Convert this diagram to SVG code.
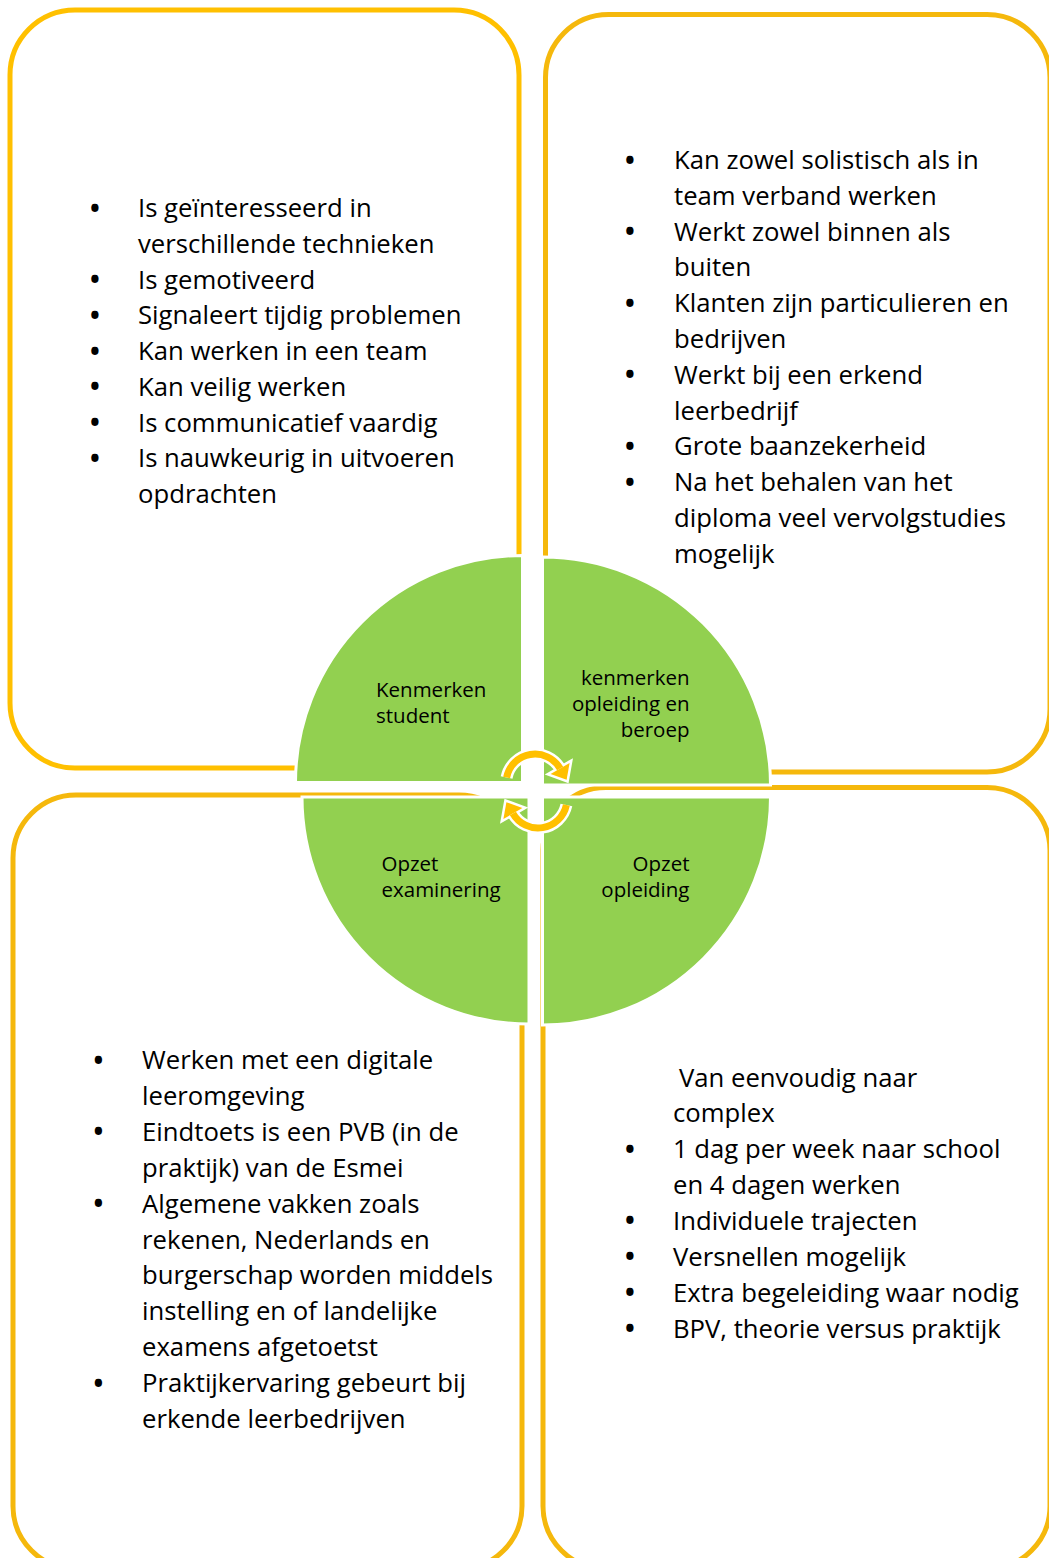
<svg xmlns="http://www.w3.org/2000/svg" width="1049" height="1558" viewBox="0 0 1049 1558">
<style>
.box{fill:#fff;stroke-width:5}
.y1{stroke:#FFC000}
.y2{stroke:#F5B80C}
.t{font-family:"Open Sans","Liberation Sans",sans-serif;font-size:25.7px;fill:#000}
.lbl{font-family:"Open Sans","Liberation Sans",sans-serif;font-size:20.5px;fill:#000}
.b{text-anchor:middle;font-size:26px;font-weight:bold}
.q{fill:#92D050;stroke:#fff;stroke-width:3}
.aw{fill:none;stroke:#fff;stroke-width:12}
.ahw{fill:#fff;stroke:#fff;stroke-width:5;stroke-linejoin:miter}
.ao{fill:none;stroke:#FFC000;stroke-width:7}
.aho{fill:#FFC000}
</style>
<rect width="1049" height="1558" fill="#fff"/>

<g id="box-kenmerken-student">
<rect class="box y1" x="10" y="10" width="509" height="758" rx="65"/>
<g class="t">
<text class="b" x="95" y="217.5">•</text>
<text x="138" y="217">Is geïnteresseerd in</text>
<text x="138" y="252.8">verschillende technieken</text>
<text class="b" x="95" y="289">•</text>
<text x="138" y="288.5">Is gemotiveerd</text>
<text class="b" x="95" y="324.8">•</text>
<text x="138" y="324.3">Signaleert tijdig problemen</text>
<text class="b" x="95" y="360.5">•</text>
<text x="138" y="360">Kan werken in een team</text>
<text class="b" x="95" y="396.3">•</text>
<text x="138" y="395.8">Kan veilig werken</text>
<text class="b" x="95" y="432">•</text>
<text x="138" y="431.5">Is communicatief vaardig</text>
<text class="b" x="95" y="467.8">•</text>
<text x="138" y="467.3">Is nauwkeurig in uitvoeren</text>
<text x="138" y="503">opdrachten</text>
</g>
</g>

<g id="box-kenmerken-opleiding">
<rect class="box y2" x="545.5" y="14.5" width="504.5" height="757.5" rx="63"/>
<g class="t">
<text class="b" x="630" y="169.5">•</text>
<text x="674" y="169">Kan zowel solistisch als in</text>
<text x="674" y="204.8">team verband werken</text>
<text class="b" x="630" y="241.1">•</text>
<text x="674" y="240.6">Werkt zowel binnen als</text>
<text x="674" y="276.4">buiten</text>
<text class="b" x="630" y="312.7">•</text>
<text x="674" y="312.2">Klanten zijn particulieren en</text>
<text x="674" y="348">bedrijven</text>
<text class="b" x="630" y="384.3">•</text>
<text x="674" y="383.8">Werkt bij een erkend</text>
<text x="674" y="419.6">leerbedrijf</text>
<text class="b" x="630" y="455.9">•</text>
<text x="674" y="455.4">Grote baanzekerheid</text>
<text class="b" x="630" y="491.7">•</text>
<text x="674" y="491.2">Na het behalen van het</text>
<text x="674" y="527">diploma veel vervolgstudies</text>
<text x="674" y="562.8">mogelijk</text>
</g>
</g>

<g id="box-opzet-examinering">
<rect class="box y2" x="13" y="795" width="509" height="774" rx="63"/>
<g class="t">
<text class="b" x="98.5" y="1069.5">•</text>
<text x="142" y="1069">Werken met een digitale</text>
<text x="142" y="1104.9">leeromgeving</text>
<text class="b" x="98.5" y="1141.3">•</text>
<text x="142" y="1140.8">Eindtoets is een PVB (in de</text>
<text x="142" y="1176.7">praktijk) van de Esmei</text>
<text class="b" x="98.5" y="1213.1">•</text>
<text x="142" y="1212.6">Algemene vakken zoals</text>
<text x="142" y="1248.5">rekenen, Nederlands en</text>
<text x="142" y="1284.4">burgerschap worden middels</text>
<text x="142" y="1320.3">instelling en of landelijke</text>
<text x="142" y="1356.2">examens afgetoetst</text>
<text class="b" x="98.5" y="1392.6">•</text>
<text x="142" y="1392.1">Praktijkervaring gebeurt bij</text>
<text x="142" y="1428">erkende leerbedrijven</text>
</g>
</g>

<g id="box-opzet-opleiding">
<rect class="box y2" x="543" y="787.5" width="507" height="781.5" rx="63"/>
<g class="t">
<text x="679" y="1086.5">Van eenvoudig naar</text>
<text x="673" y="1122.4">complex</text>
<text class="b" x="630" y="1158.7">•</text>
<text x="673" y="1158.2">1 dag per week naar school</text>
<text x="673" y="1194.1">en 4 dagen werken</text>
<text class="b" x="630" y="1230.4">•</text>
<text x="673" y="1229.9">Individuele trajecten</text>
<text class="b" x="630" y="1266.3">•</text>
<text x="673" y="1265.8">Versnellen mogelijk</text>
<text class="b" x="630" y="1302.1">•</text>
<text x="673" y="1301.6">Extra begeleiding waar nodig</text>
<text class="b" x="630" y="1338">•</text>
<text x="673" y="1337.5">BPV, theorie versus praktijk</text>
</g>
</g>

<g id="quadrant-kenmerken-student">
<path class="q" d="M522.5,782.5 L295.5,782.5 A227,227 0 0 1 522.5,555.5 Z"/>
<text class="lbl" x="376" y="697">Kenmerken</text>
<text class="lbl" x="376" y="723">student</text>
</g>
<g id="quadrant-kenmerken-opleiding">
<path class="q" d="M542.5,785 L542.5,557 A228,228 0 0 1 770.5,785 Z"/>
<text class="lbl" x="689.5" y="685" text-anchor="end">kenmerken</text>
<text class="lbl" x="689.5" y="711" text-anchor="end">opleiding en</text>
<text class="lbl" x="689.5" y="737" text-anchor="end">beroep</text>
</g>
<g id="quadrant-opzet-examinering">
<path class="q" d="M529,797 L529,1024 A227,227 0 0 1 302,797 Z"/>
<text class="lbl" x="381.5" y="871">Opzet</text>
<text class="lbl" x="381.5" y="897">examinering</text>
</g>
<g id="quadrant-opzet-opleiding">
<path class="q" d="M542.5,797 L770.5,797 A228,228 0 0 1 542.5,1025 Z"/>
<text class="lbl" x="689.5" y="871" text-anchor="end">Opzet</text>
<text class="lbl" x="689.5" y="897" text-anchor="end">opleiding</text>
</g>

<g id="connectors">
<path class="aw" d="M506.6,777.5 A29,29 0 0 1 560.1,768.5"/>
<polygon class="ahw" points="569.6,763 550.6,774 566.6,779.8"/>
<path class="aw" d="M566.4,805 A29,29 0 0 1 512.9,813.5"/>
<polygon class="ahw" points="522.4,808 503.4,819 506.4,802.2"/>
<path class="ao" d="M506.6,777.5 A29,29 0 0 1 560.1,768.5"/>
<polygon class="aho" points="569.6,763 550.6,774 566.6,779.8"/>
<path class="ao" d="M566.4,805 A29,29 0 0 1 512.9,813.5"/>
<polygon class="aho" points="522.4,808 503.4,819 506.4,802.2"/>
</g>
</svg>
